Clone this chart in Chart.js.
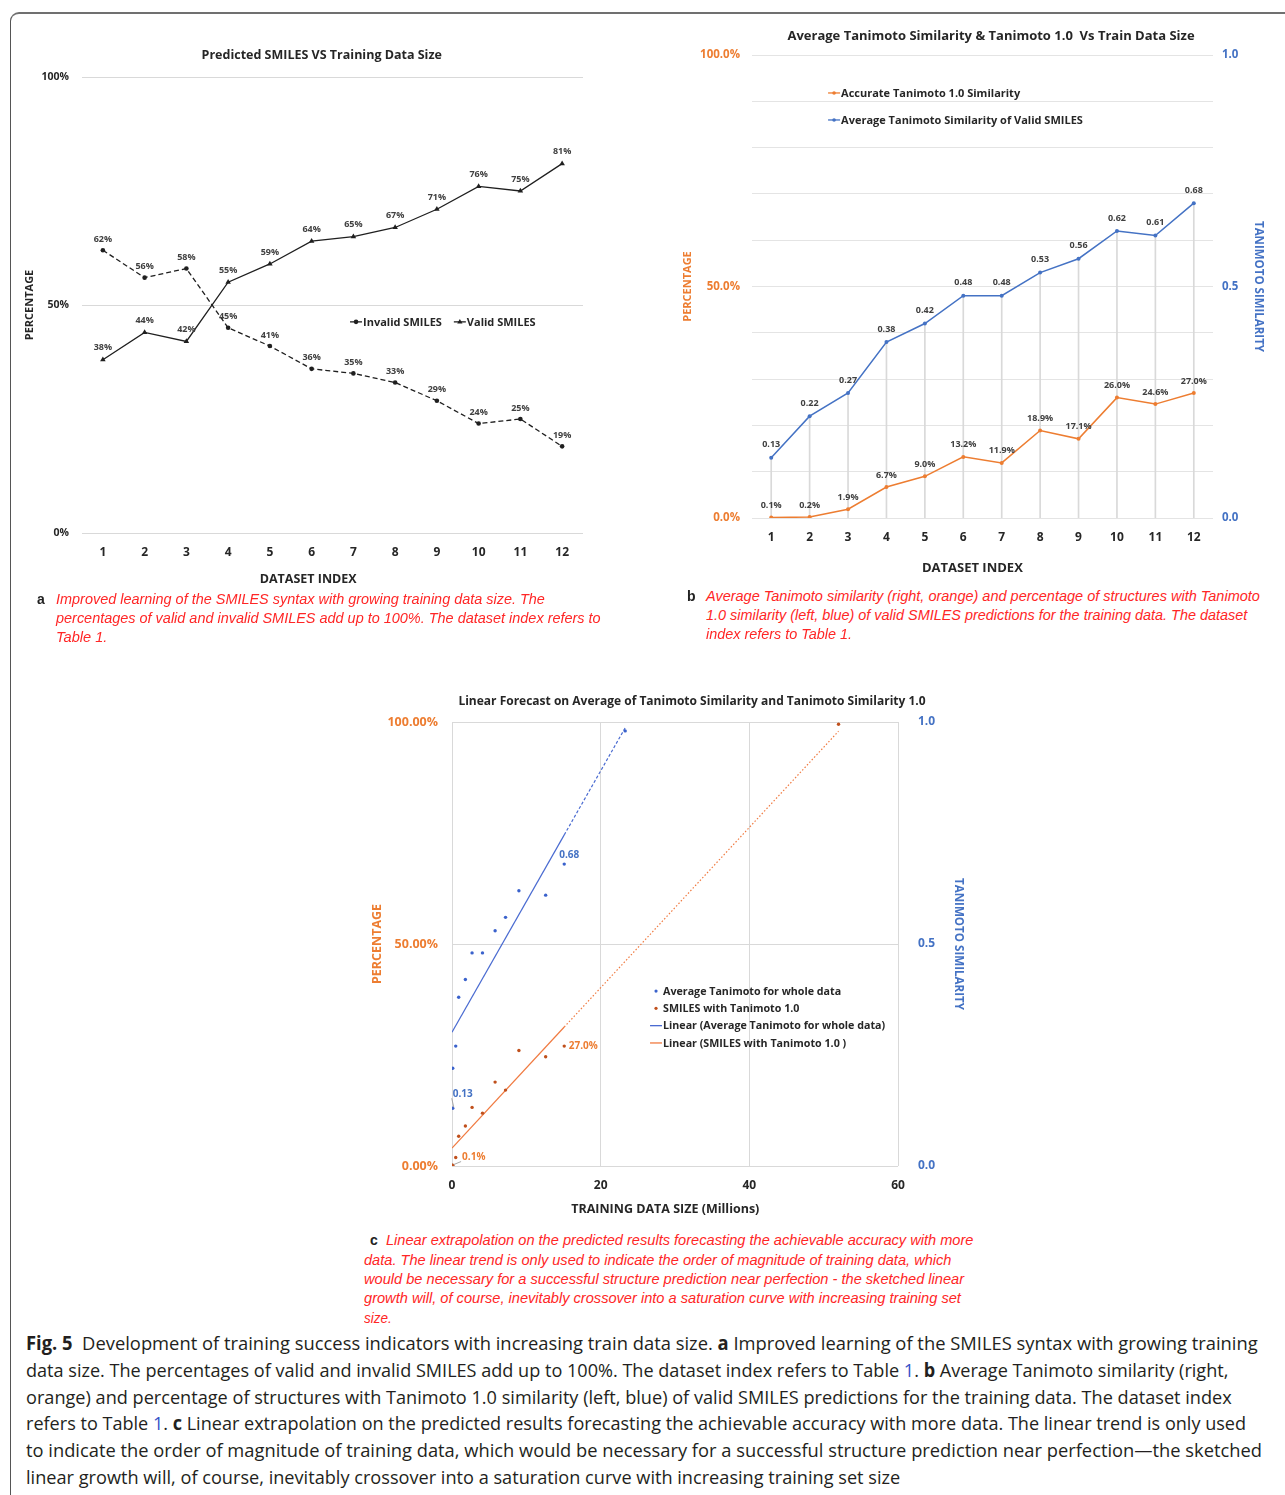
<!DOCTYPE html>
<html>
<head>
<meta charset="utf-8">
<title>Fig. 5</title>
<script src="https://cdn.jsdelivr.net/npm/chart.js"></script>
<style>
  body { margin: 0; width: 1285px; height: 1495px; overflow: hidden; background: #fff; position: relative; }
  .frame { position: absolute; left: 10px; top: 12px; width: 1320px; height: 1520px; border-top: 2px solid #707070; border-left: 1.5px solid #555; border-top-left-radius: 9px; }
  canvas { position: absolute; }
  .cap { position: absolute; white-space: nowrap; font: italic 14px 'Liberation Sans', Arial, sans-serif; color: #ff2626; line-height: 20px; transform-origin: 0 50%; z-index: 2; }
  .tag { position: absolute; font: bold 14px 'Liberation Sans', Arial, sans-serif; color: #222; line-height: 20px; z-index: 2; }
  .fig { position: absolute; left: 26px; white-space: nowrap; font: 19px 'Open Sans', sans-serif; color: #231f20; line-height: 27px; transform-origin: 0 50%; z-index: 2; }
  .fig b { font-weight: 700; }
  .ref { color: #3552c8; }
</style>
</head>
<body>
<div class="frame"></div>

<canvas id="chartA" width="615" height="580" style="left:15px;top:20px"></canvas>
<canvas id="chartB" width="622" height="575" style="left:680px;top:10px"></canvas>
<canvas id="chartC" width="644" height="545" style="left:370px;top:680px"></canvas>

<!-- caption a -->
<div class="tag" style="left:37px;top:589px">a</div>
<div class="cap fit" data-w="489" style="left:56px;top:589px">Improved learning of the SMILES syntax with growing training data size. The</div>
<div class="cap fit" data-w="545" style="left:56px;top:608px">percentages of valid and invalid SMILES add up to 100%. The dataset index refers to</div>
<div class="cap fit" data-w="51" style="left:56px;top:627px">Table 1.</div>

<!-- caption b -->
<div class="tag" style="left:687px;top:586px">b</div>
<div class="cap fit" data-w="554" style="left:706px;top:586px">Average Tanimoto similarity (right, orange) and percentage of structures with Tanimoto</div>
<div class="cap fit" data-w="541" style="left:706px;top:605px">1.0 similarity (left, blue) of valid SMILES predictions for the training data. The dataset</div>
<div class="cap fit" data-w="146" style="left:706px;top:624px">index refers to Table 1.</div>

<!-- caption c -->
<div class="tag" style="left:370px;top:1230px">c</div>
<div class="cap fit" data-w="587" style="left:386px;top:1230px">Linear extrapolation on the predicted results forecasting the achievable accuracy with more</div>
<div class="cap fit" data-w="587" style="left:364px;top:1250px">data. The linear trend is only used to indicate the order of magnitude of training data, which</div>
<div class="cap fit" data-w="600" style="left:364px;top:1269px">would be necessary for a successful structure prediction near perfection - the sketched linear</div>
<div class="cap fit" data-w="597" style="left:364px;top:1288px">growth will, of course, inevitably crossover into a saturation curve with increasing training set</div>
<div class="cap fit" data-w="28" style="left:364px;top:1308px">size.</div>

<!-- figure caption -->
<div class="fig fit" data-w="1232" style="top:1330px"><b>Fig. 5</b>&nbsp; Development of training success indicators with increasing train data size. <b>a</b> Improved learning of the SMILES syntax with growing training</div>
<div class="fig fit" data-w="1202" style="top:1357px">data size. The percentages of valid and invalid SMILES add up to 100%. The dataset index refers to Table <span class="ref">1</span>. <b>b</b> Average Tanimoto similarity (right,</div>
<div class="fig fit" data-w="1206" style="top:1384px">orange) and percentage of structures with Tanimoto 1.0 similarity (left, blue) of valid SMILES predictions for the training data. The dataset index</div>
<div class="fig fit" data-w="1220" style="top:1410px">refers to Table <span class="ref">1</span>. <b>c</b> Linear extrapolation on the predicted results forecasting the achievable accuracy with more data. The linear trend is only used</div>
<div class="fig fit" data-w="1236" style="top:1437px">to indicate the order of magnitude of training data, which would be necessary for a successful structure prediction near perfection—the sketched</div>
<div class="fig fit" data-w="874" style="top:1464px">linear growth will, of course, inevitably crossover into a saturation curve with increasing training set size</div>

<script>
// data
const datasetIndex = ['1', '2', '3', '4', '5', '6', '7', '8', '9', '10', '11', '12'];
const invalidSmiles = [62, 56, 58, 45, 41, 36, 35, 33, 29, 24, 25, 19];
const validSmiles = [38, 44, 42, 55, 59, 64, 65, 67, 71, 76, 75, 81];
const tanimotoOnePct = [0.1, 0.2, 1.9, 6.7, 9.0, 13.2, 11.9, 18.9, 17.1, 26.0, 24.6, 27.0];
const avgTanimoto = [0.13, 0.22, 0.27, 0.38, 0.42, 0.48, 0.48, 0.53, 0.56, 0.62, 0.61, 0.68];
const trainSizeM = [0.1, 0.1, 0.5, 0.9, 1.8, 2.7, 4.1, 5.8, 7.2, 9.0, 12.6, 15.1];
// forecast end points (training size in millions, value)
const forecastAvg = [23.3, 0.98];
const forecastPct = [52, 99.5];

const dark = '#262626';
const orange = '#ED7D31';
const blue = '#4472C4';
const fam = "'Open Sans'";
const nb = n => '\u00a0'.repeat(n);

// simple least squares, like the excel trendline
function linFit(xs, ys) {
  const n = xs.length;
  const mx = xs.reduce((a, b) => a + b, 0) / n;
  const my = ys.reduce((a, b) => a + b, 0) / n;
  let sxy = 0, sxx = 0;
  xs.forEach((x, i) => { sxy += (x - mx) * (ys[i] - my); sxx += (x - mx) ** 2; });
  const k = sxy / sxx;
  return x => my + k * (x - mx);
}

function dot(ctx, style, x, y, r, color) {
  ctx.fillStyle = color;
  ctx.beginPath();
  if (style === 'triangle') {
    ctx.moveTo(x, y - r);
    ctx.lineTo(x + r * 0.95, y + r * 0.6);
    ctx.lineTo(x - r * 0.95, y + r * 0.6);
    ctx.closePath();
  } else {
    ctx.arc(x, y, r, 0, Math.PI * 2);
  }
  ctx.fill();
}

// value labels next to the points
const pointLabels = {
  id: 'pointLabels',
  afterDatasetsDraw(chart) {
    const ctx = chart.ctx;
    chart.data.datasets.forEach((ds, i) => {
      const tg = ds.tags;
      if (!tg) return;
      const meta = chart.getDatasetMeta(i);
      ctx.save();
      ctx.font = 'bold ' + (tg.size || 9) + 'px ' + fam;
      ctx.fillStyle = tg.color || '#404040';
      ctx.textAlign = 'center';
      ctx.textBaseline = 'middle';
      meta.data.forEach((el, j) => {
        const spot = tg.at ? tg.at[j] : { dx: 0, dy: tg.dy };
        if (!spot) return;
        const raw = ds.data[j];
        const text = tg.fmt(typeof raw === 'object' ? raw.y : raw);
        const x = el.x + spot.dx, y = el.y + spot.dy;
        if (spot.leader) {
          const w = ctx.measureText(text).width;
          ctx.strokeStyle = '#a6a6a6';
          ctx.lineWidth = 1;
          ctx.beginPath();
          ctx.moveTo(el.x + 1, el.y - 1);
          ctx.lineTo(x - w / 2 - 1, y + 4);
          ctx.stroke();
        }
        ctx.fillText(text, x, y);
      });
      ctx.restore();
    });
  }
};

// legend drawn inside the plot area
const innerLegend = {
  id: 'innerLegend',
  afterDatasetsDraw(chart, args, opts) {
    const items = opts.items || [];
    const a = chart.chartArea;
    const ctx = chart.ctx;
    let x = a.left + opts.x * a.width;
    let y = a.top + opts.y * a.height;
    ctx.save();
    ctx.font = 'bold ' + (opts.size || 11) + 'px ' + fam;
    ctx.textBaseline = 'middle';
    ctx.textAlign = 'left';
    items.forEach(it => {
      const ds = chart.data.datasets[it.index];
      const color = ds.borderColor || ds.backgroundColor;
      if (it.line) {
        ctx.strokeStyle = color;
        ctx.lineWidth = 1.3;
        ctx.beginPath();
        ctx.moveTo(x, y);
        ctx.lineTo(x + 12, y);
        ctx.stroke();
      }
      if (it.point) dot(ctx, ds.pointStyle, x + 6, y, it.r || 2.3, ds.backgroundColor || color);
      ctx.fillStyle = dark;
      ctx.fillText(ds.label, x + 13, y + 0.5);
      if (opts.row) x += 13 + ctx.measureText(ds.label).width + opts.gap;
      else y += opts.gap;
    });
    ctx.restore();
  }
};

function drawCharts() {
  Chart.defaults.font.family = fam;
  Chart.defaults.color = dark;

  // ---------- a ----------
  new Chart(document.getElementById('chartA'), {
    type: 'line',
    data: {
      labels: datasetIndex,
      datasets: [
        {
          label: 'Invalid SMILES', data: invalidSmiles,
          borderColor: '#1f1f1f', backgroundColor: '#1f1f1f', borderWidth: 1.3, borderDash: [5, 3],
          pointStyle: 'circle', pointRadius: 2.3, pointBorderWidth: 0,
          tags: { dy: -11, fmt: v => v + '%' }
        },
        {
          label: 'Valid SMILES', data: validSmiles,
          borderColor: '#1f1f1f', backgroundColor: '#1f1f1f', borderWidth: 1.3,
          pointStyle: 'triangle', pointRadius: 3.2, pointBorderWidth: 0,
          tags: { dy: -12, fmt: v => v + '%' }
        }
      ]
    },
    options: {
      responsive: false,
      animation: false,
      layout: { padding: { left: 0, right: 47, top: 0, bottom: 0 } },
      plugins: {
        legend: { display: false },
        tooltip: { enabled: false },
        title: {
          // leading spaces push the title right, as in the figure
          display: true, text: nb(14) + 'Predicted SMILES VS Training Data Size', color: dark,
          font: { size: 12.5, weight: 'bold' }, padding: { top: 27.5, bottom: 14.5 }
        },
        innerLegend: {
          x: 0.535, y: 0.537, row: true, gap: 12, size: 11,
          items: [{ index: 0, line: true, point: true }, { index: 1, line: true, point: true, r: 2.8 }]
        }
      },
      scales: {
        x: {
          offset: true,
          grid: { display: false, drawTicks: false },
          border: { display: false },
          ticks: { font: { size: 12, weight: 'bold' }, color: dark, padding: 12 },
          title: {
            display: true, text: 'DATASET INDEX' + nb(15), color: dark,
            font: { size: 12.5, weight: 'bold' }, padding: { top: 0, bottom: 13.5 }
          },
          afterFit: s => { s.height = 67; }
        },
        y: {
          min: 0, max: 100,
          grid: { color: '#d9d9d9', drawTicks: false },
          border: { display: false },
          ticks: { stepSize: 50, callback: v => v + '%', font: { size: 10.5, weight: 'bold' }, color: dark, padding: 13 },
          title: { display: true, text: 'PERCENTAGE', color: dark, font: { size: 11, weight: 'bold' }, padding: { top: 8.4, bottom: 0 } },
          afterFit: s => { s.width = 67; }
        }
      }
    },
    plugins: [pointLabels, innerLegend]
  });

  // ---------- b ----------
  new Chart(document.getElementById('chartB'), {
    type: 'line',
    data: {
      labels: datasetIndex,
      datasets: [
        {
          label: 'Accurate Tanimoto 1.0 Similarity', data: tanimotoOnePct, yAxisID: 'y', order: 0,
          borderColor: orange, backgroundColor: orange, borderWidth: 1.5,
          pointStyle: 'circle', pointRadius: 2, pointBorderWidth: 0,
          tags: { dy: -12, fmt: v => v.toFixed(1) + '%' }
        },
        {
          label: 'Average Tanimoto Similarity of Valid SMILES', data: avgTanimoto, yAxisID: 'y1', order: 0,
          borderColor: blue, backgroundColor: blue, borderWidth: 1.5,
          pointStyle: 'circle', pointRadius: 2, pointBorderWidth: 0,
          tags: { dy: -13, fmt: v => v.toFixed(2) }
        },
        {
          // drop lines
          type: 'bar', label: 'drop', data: avgTanimoto, yAxisID: 'y1', order: 3,
          barThickness: 1, backgroundColor: '#d9d9d9'
        }
      ]
    },
    options: {
      responsive: false,
      animation: false,
      layout: { padding: 0 },
      plugins: {
        legend: { display: false },
        tooltip: { enabled: false },
        title: {
          display: true, text: 'Average Tanimoto Similarity & Tanimoto 1.0  Vs Train Data Size', color: dark,
          font: { size: 13, weight: 'bold' }, padding: { top: 18.2, bottom: 11.2 }
        },
        innerLegend: {
          x: 0.165, y: 0.082, row: false, gap: 27, size: 11,
          items: [{ index: 0, line: true, point: true, r: 1.8 }, { index: 1, line: true, point: true, r: 1.8 }]
        }
      },
      scales: {
        x: {
          offset: true,
          grid: { display: false, drawTicks: false },
          border: { display: false },
          ticks: { font: { size: 12, weight: 'bold' }, color: dark, padding: 12 },
          title: {
            display: true, text: 'DATASET INDEX' + nb(6), color: dark,
            font: { size: 13, weight: 'bold' }, padding: { top: 0, bottom: 9.2 }
          },
          afterFit: s => { s.height = 67; }
        },
        y: {
          position: 'left', min: 0, max: 100,
          grid: { color: '#e4e4e4', drawTicks: false },
          border: { display: false },
          ticks: {
            stepSize: 10, callback: v => (v % 50 === 0 ? v.toFixed(1) + '%' : ''),
            font: { size: 11.5, weight: 'bold' }, color: orange, padding: 12
          },
          title: { display: true, text: 'PERCENTAGE', color: orange, font: { size: 11, weight: 'bold' }, padding: { top: 1.4, bottom: 0 } },
          afterFit: s => { s.width = 72; }
        },
        y1: {
          position: 'right', min: 0, max: 1,
          grid: { display: false, drawTicks: false },
          border: { display: false },
          ticks: { stepSize: 0.5, callback: v => v.toFixed(1), font: { size: 11.5, weight: 'bold' }, color: blue, padding: 9 },
          title: { display: true, text: 'TANIMOTO SIMILARITY', color: blue, font: { size: 11.5, weight: 'bold' }, padding: { top: 37.1, bottom: 0 } },
          afterFit: s => { s.width = 89; }
        }
      }
    },
    plugins: [pointLabels, innerLegend]
  });

  // ---------- c ----------
  const avgPts = trainSizeM.map((x, i) => ({ x, y: avgTanimoto[i] }));
  avgPts.push({ x: forecastAvg[0], y: forecastAvg[1] });
  const pctPts = trainSizeM.map((x, i) => ({ x, y: tanimotoOnePct[i] }));
  pctPts.push({ x: forecastPct[0], y: forecastPct[1] });

  const maxSize = Math.max(...trainSizeM);
  const avgLine = linFit(trainSizeM, avgTanimoto);
  const pctLine = linFit(trainSizeM, tanimotoOnePct);
  const avgTrend = [0, maxSize, forecastAvg[0]].map(x => ({ x, y: avgLine(x) }));
  const pctTrend = [0, maxSize, forecastPct[0]].map(x => ({ x, y: pctLine(x) }));

  new Chart(document.getElementById('chartC'), {
    type: 'scatter',
    data: {
      datasets: [
        {
          label: 'Average Tanimoto for whole data', data: avgPts, yAxisID: 'y1',
          backgroundColor: '#3a62cc', pointRadius: 1.7, pointBorderWidth: 0, pointStyle: 'circle',
          tags: {
            size: 10, color: blue, fmt: v => v.toFixed(2),
            at: { 0: { dx: 10, dy: -14, leader: true }, 11: { dx: 5, dy: -9 } }
          }
        },
        {
          label: 'SMILES with Tanimoto 1.0', data: pctPts, yAxisID: 'y',
          backgroundColor: '#c0501c', pointRadius: 1.7, pointBorderWidth: 0, pointStyle: 'circle',
          tags: {
            size: 10, color: orange, fmt: v => v.toFixed(1) + '%',
            at: { 0: { dx: 21, dy: -8, leader: true }, 11: { dx: 19, dy: 0 } }
          }
        },
        {
          label: 'Linear (Average Tanimoto for whole data)', data: avgTrend, yAxisID: 'y1',
          showLine: true, pointRadius: 0, borderColor: '#4a6bd1', borderWidth: 1.2,
          segment: { borderDash: c => (c.p0DataIndex >= 1 ? [3, 2] : []) }
        },
        {
          label: 'Linear (SMILES with Tanimoto 1.0 )', data: pctTrend, yAxisID: 'y',
          showLine: true, pointRadius: 0, borderColor: '#f07a40', borderWidth: 1.2,
          segment: { borderDash: c => (c.p0DataIndex >= 1 ? [1.5, 2] : []) }
        }
      ]
    },
    options: {
      responsive: false,
      animation: false,
      layout: { padding: 0 },
      plugins: {
        legend: { display: false },
        tooltip: { enabled: false },
        title: {
          display: true, text: 'Linear Forecast on Average of Tanimoto Similarity and Tanimoto Similarity 1.0', color: dark,
          font: { size: 12, weight: 'bold' }, padding: { top: 14.8, bottom: 12.8 }
        },
        innerLegend: {
          x: 0.444, y: 0.606, row: false, gap: 17.3, size: 10.7,
          items: [
            { index: 0, point: true, r: 1.6 },
            { index: 1, point: true, r: 1.6 },
            { index: 2, line: true },
            { index: 3, line: true }
          ]
        }
      },
      scales: {
        x: {
          type: 'linear', min: 0, max: 60,
          grid: { color: '#d9d9d9', drawTicks: false },
          border: { display: false },
          ticks: { stepSize: 20, font: { size: 12, weight: 'bold' }, color: dark, padding: 12 },
          title: {
            display: true, text: 'TRAINING DATA SIZE (Millions)' + nb(6), color: dark,
            font: { size: 12.5, weight: 'bold' }, padding: { top: 0, bottom: 8.5 }
          },
          afterFit: s => { s.height = 59; }
        },
        y: {
          position: 'left', min: 0, max: 100,
          grid: { color: '#d9d9d9', drawTicks: false },
          border: { display: false },
          ticks: { stepSize: 50, callback: v => v.toFixed(2) + '%', font: { size: 12.5, weight: 'bold' }, color: orange, padding: 14 },
          title: { display: true, text: 'PERCENTAGE', color: orange, font: { size: 12.5, weight: 'bold' }, padding: { top: 0, bottom: 0 } },
          afterFit: s => { s.width = 82; }
        },
        y1: {
          position: 'right', min: 0, max: 1,
          grid: { display: false, drawTicks: false },
          border: { display: false },
          ticks: { stepSize: 0.5, callback: v => v.toFixed(1), font: { size: 12, weight: 'bold' }, color: blue, padding: 20 },
          title: { display: true, text: 'TANIMOTO SIMILARITY', color: blue, font: { size: 11.6, weight: 'bold' }, padding: { top: 49, bottom: 0 } },
          afterFit: s => { s.width = 116; }
        }
      }
    },
    plugins: [pointLabels, innerLegend]
  });
}

// squeeze caption lines to the widths in the figure
function fitLines() {
  document.querySelectorAll('.fit').forEach(el => {
    const w = +el.dataset.w;
    el.style.transform = 'scaleX(' + (w / el.offsetWidth) + ')';
  });
}

fitLines();
Promise.all([
  document.fonts.load("bold 12px 'Open Sans'"),
  document.fonts.load("12px 'Open Sans'")
]).catch(() => {}).then(() => {
  drawCharts();
  fitLines();
});
</script>
</body>
</html>
